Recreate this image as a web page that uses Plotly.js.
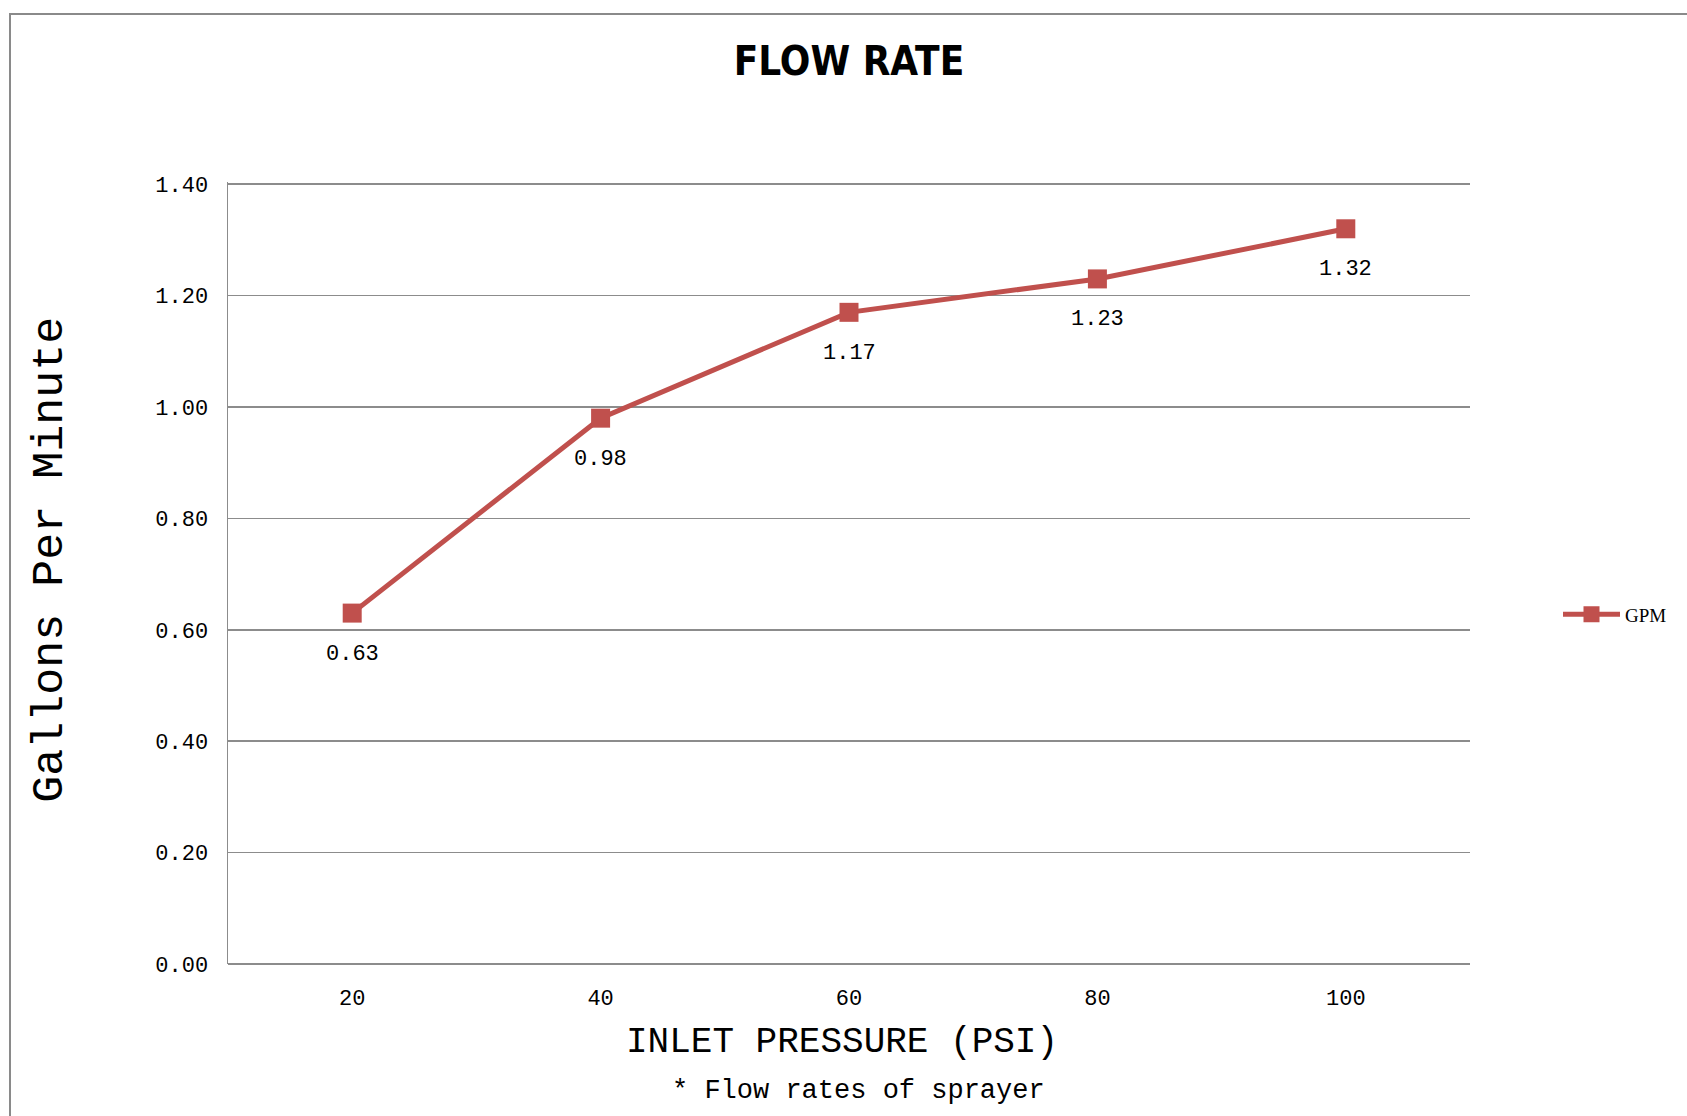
<!DOCTYPE html>
<html>
<head>
<meta charset="utf-8">
<script src="https://cdn.plot.ly/plotly-3.0.1.min.js"></script>
<style>
  html, body { margin: 0; padding: 0; background: #ffffff; }
  #chart { width: 1687px; height: 1116px; position: absolute; left: 0; top: 0; }
  #frame { position: absolute; left: 9px; top: 13px; width: 1700px; height: 1200px;
           border-top: 2px solid #8a8a8a; border-left: 2px solid #8a8a8a; pointer-events: none; }
</style>
</head>
<body>
<div id="chart"></div>
<div id="frame"></div>
<script>
// ---- data ----
const pressures = ["20", "40", "60", "80", "100"];
const gpm = [0.63, 0.98, 1.17, 1.23, 1.32];
const gpmLabels = ["0.63", "0.98", "1.17", "1.23", "1.32"];
const seriesName = "GPM";
const yTickVals = [0, 0.2, 0.4, 0.6, 0.8, 1.0, 1.2, 1.4];
const yTickText = ["0.00", "0.20", "0.40", "0.60", "0.80", "1.00", "1.20", "1.40"];
const xTitle = "INLET PRESSURE (PSI)";
const yTitle = "Gallons Per Minute";
const note = "* Flow rates of sprayer";

const RED = "#C0504D";
const GRID = "#8c8c8c";
const MONO = "Liberation Mono, DejaVu Sans Mono, monospace";

const trace = {
  type: "scatter",
  mode: "lines+markers",
  x: pressures,
  y: gpm,
  name: seriesName,
  line: { color: RED, width: 5 },
  marker: { symbol: "square", size: 19, color: RED },
  hoverinfo: "x+y"
};

// category axis: annotations addressed by category index
const labelAnnotations = pressures.map((p, i) => ({
  x: i, y: gpm[i], xref: "x", yref: "y",
  text: gpmLabels[i], showarrow: false, yshift: -41,
  font: { family: MONO, size: 22, color: "#000" }
}));

const layout = {
  width: 1687, height: 1116,
  paper_bgcolor: "#ffffff", plot_bgcolor: "#ffffff",
  margin: { l: 228, r: 217, t: 182, b: 152 },
  title: {
    text: "<b>FLOW RATE</b>",
    x: 0.5, xref: "paper", xanchor: "center",
    y: 1 - 61 / 1116, yref: "container", yanchor: "middle",
    font: { family: "DejaVu Sans Condensed, Open Sans, sans-serif", size: 40, color: "#000" }
  },
  xaxis: {
    type: "category",
    range: [-0.5, 4.5],
    showgrid: false,
    showline: false,
    zeroline: false,
    ticks: "",
    ticklabelstandoff: 18,
    tickfont: { family: MONO, size: 22, color: "#000" }
  },
  yaxis: {
    range: [0, 1.404],
    tickvals: yTickVals,
    ticktext: yTickText,
    showgrid: true, gridcolor: GRID, gridwidth: 1.5,
    zeroline: true, zerolinecolor: GRID, zerolinewidth: 1.5,
    showline: true, linecolor: GRID, linewidth: 1.5,
    ticks: "",
    ticklabelstandoff: 14,
    tickfont: { family: MONO, size: 22, color: "#000" }
  },
  showlegend: true,
  legend: {
    x: (1558 - 228) / 1242, xanchor: "left",
    y: 0.447, yanchor: "middle",
    itemwidth: 57,
    bgcolor: "rgba(0,0,0,0)",
    font: { family: "Liberation Serif, serif", size: 19, color: "#000" }
  },
  annotations: labelAnnotations.concat([
    {
      text: yTitle, xref: "paper", yref: "paper",
      x: -0.1425, y: 0.517, xanchor: "center", yanchor: "middle",
      textangle: -90, showarrow: false,
      font: { family: MONO, size: 45, color: "#000" }
    },
    {
      text: xTitle, xref: "paper", yref: "paper",
      x: 0.494, y: -0.1, xanchor: "center", yanchor: "middle",
      showarrow: false,
      font: { family: MONO, size: 36, color: "#000" }
    },
    {
      text: note, xref: "paper", yref: "paper",
      x: 0.508, y: -0.163, xanchor: "center", yanchor: "middle",
      showarrow: false,
      font: { family: MONO, size: 27, color: "#000" }
    }
  ])
};

Plotly.newPlot("chart", [trace], layout, { displayModeBar: false, staticPlot: true });
</script>
</body>
</html>
